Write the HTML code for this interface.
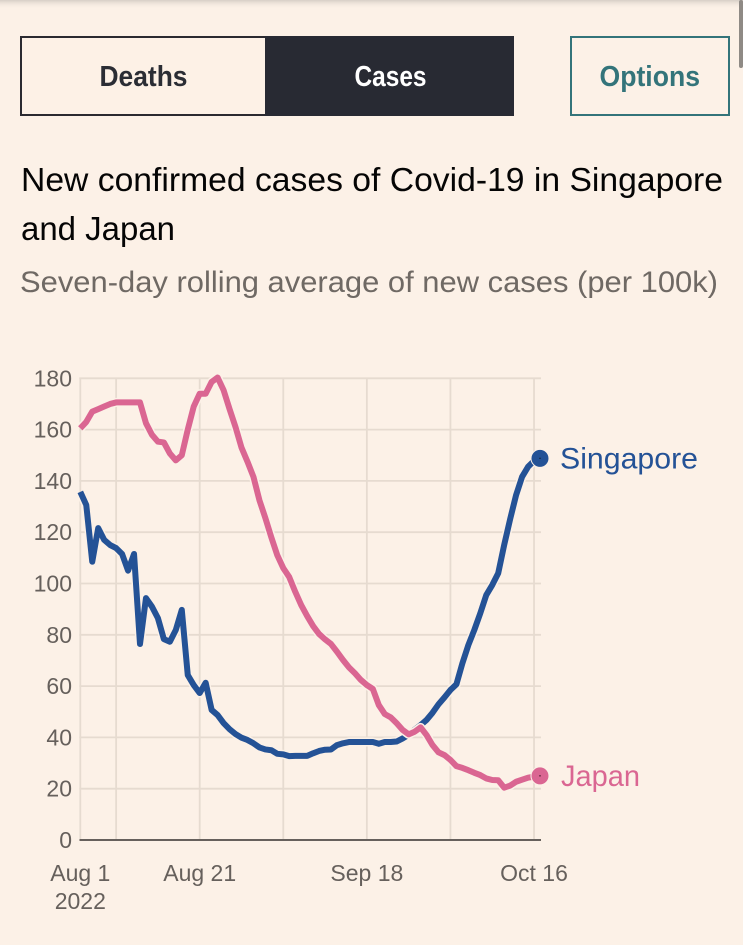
<!DOCTYPE html>
<html lang="en">
<head>
<meta charset="utf-8">
<title>New confirmed cases of Covid-19 in Singapore and Japan</title>
<style>
html,body{margin:0;padding:0;background:#fcf1e7;width:743px;height:945px;overflow:hidden}
svg{display:block;font-family:"Liberation Sans",sans-serif}
</style>
</head>
<body>
<svg id="page" xmlns="http://www.w3.org/2000/svg" width="743" height="945" viewBox="0 0 743 945">
  <defs>
    <linearGradient id="topShade" x1="0" y1="0" x2="0" y2="1">
      <stop offset="0" stop-color="#b9b3ac" stop-opacity="0.55"/>
      <stop offset="1" stop-color="#fcf1e7" stop-opacity="0"/>
    </linearGradient>
  </defs>
  <rect x="0" y="0" width="743" height="945" fill="#fcf1e7"/>
  <rect x="0" y="0" width="743" height="9" fill="url(#topShade)"/>
  <rect x="739" y="0" width="4" height="68" rx="2" fill="#8f8a85"/>

  <g>
    <rect x="21" y="37" width="245" height="78" fill="#fdf1e6" stroke="#2b2a30" stroke-width="2"/>
    <text x="99.5" y="86" font-size="28.5" font-weight="700" fill="#2b2d34" textLength="88" lengthAdjust="spacingAndGlyphs">Deaths</text>
  </g>
  <g>
    <rect x="265" y="36" width="249" height="80" fill="#282a33"/>
    <text x="354.5" y="86" font-size="28.5" font-weight="700" fill="#ffffff" textLength="72" lengthAdjust="spacingAndGlyphs">Cases</text>
  </g>
  <g>
    <rect x="571" y="37" width="158" height="78" fill="none" stroke="#33747a" stroke-width="2"/>
    <text x="599.5" y="86" font-size="28.5" font-weight="700" fill="#33747a" textLength="100.5" lengthAdjust="spacingAndGlyphs">Options</text>
  </g>

  <text x="21" y="191" font-size="33" fill="#050505" textLength="702" lengthAdjust="spacingAndGlyphs">New confirmed cases of Covid-19 in Singapore</text>
  <text x="21" y="240" font-size="33" fill="#050505" textLength="154" lengthAdjust="spacingAndGlyphs">and Japan</text>
  <text x="20" y="292" font-size="29.5" fill="#6f6964" textLength="698" lengthAdjust="spacingAndGlyphs">Seven-day rolling average of new cases (per 100k)</text>

  <g id="plot"></g>
</svg>
<script>
var yTicks = [0, 20, 40, 60, 80, 100, 120, 140, 160, 180];
var xGridDays = [0, 6, 20, 34, 48, 62, 76];
var xTickDays = [0, 20, 48, 76];
var xTickLabels = ['Aug 1', 'Aug 21', 'Sep 18', 'Oct 16'];
var xTickSubLabel = '2022';
var seriesNames = ['Singapore', 'Japan'];
var singapore = [135.7, 130.6, 108.5, 121.6, 117, 115, 113.8, 111.5, 105, 111.5, 76.4, 94.3, 91, 86.5, 78.3, 77.3, 81.9, 89.7, 64.3, 60.4, 57.3, 61.3, 50.7, 48.7, 45.6, 43.2, 41.3, 39.9, 39, 37.7, 36.1, 35.3, 35, 33.6, 33.4, 32.7, 32.8, 32.8, 32.8, 33.8, 34.7, 35.2, 35.3, 37, 37.7, 38.2, 38.2, 38.2, 38.2, 38.2, 37.5, 38.2, 38.2, 38.4, 39.6, 41, 43, 44.8, 46.8, 49.6, 52.9, 55.6, 58.5, 60.7, 68.9, 76, 81.9, 88.4, 95.5, 99.4, 104, 115, 125.1, 134.5, 141.6, 145.5, 147.8, 148.8];
var japan = [160.5, 163, 167, 168, 169, 170, 170.6, 170.6, 170.6, 170.6, 170.6, 162.5, 158, 155.3, 155, 150.7, 148, 150, 160, 169, 174, 174, 178.6, 180.3, 175.4, 168, 161, 153, 147.5, 141.6, 132.5, 125.5, 118, 111, 106, 102.5, 96.8, 91.6, 87.3, 83.4, 80.3, 78.2, 76.4, 73.4, 70.2, 67.3, 65, 62.4, 60.4, 58.9, 52.6, 49.1, 47.8, 45.5, 42.9, 41.2, 42.2, 43.9, 40.9, 37, 34.2, 33.1, 31.2, 28.8, 28.1, 27.2, 26.2, 25.3, 24, 23.4, 23.3, 20.4, 21.2, 22.7, 23.5, 24.3, 24.7, 25];

var NS = 'http://www.w3.org/2000/svg';
var plot = document.getElementById('plot');
var BG = '#fcf1e7', GRID = '#e6dbd0', INK = '#66605c', BLUE = '#245296', PINK = '#da6692';

function xScale(d) { return 80.3 + 5.97 * d; }
function yScale(v) { return 840 - 2.565 * v; }

function make(tag, attrs, text) {
  var el = document.createElementNS(NS, tag);
  for (var k in attrs) el.setAttribute(k, attrs[k]);
  if (text !== undefined) el.textContent = text;
  plot.appendChild(el);
  return el;
}
function pathFor(values) {
  return values.map(function (v, i) {
    return (i ? 'L' : 'M') + xScale(i).toFixed(2) + ' ' + yScale(v).toFixed(2);
  }).join(' ');
}

yTicks.forEach(function (t) {
  if (t !== 0) {
    var g = make('line', { x1: xScale(0) - 1, x2: 541, y1: yScale(t), y2: yScale(t), stroke: GRID, 'stroke-width': 1.8 });
    
    
  }
  var l = make('text', { x: 72, y: yScale(t) + 8, 'text-anchor': 'end', 'font-size': 23, fill: INK }, String(t));
  
  
});

xGridDays.forEach(function (d) {
  var g = make('line', { x1: xScale(d), x2: xScale(d), y1: yScale(180) - 0.8, y2: yScale(0), stroke: GRID, 'stroke-width': 1.8 });
  
  
});

var baseline = make('line', { x1: 79.5, x2: 541, y1: yScale(0), y2: yScale(0), stroke: INK, 'stroke-width': 2 });



xTickDays.forEach(function (d, i) {
  var l = make('text', { x: xScale(d), y: 881, 'text-anchor': 'middle', 'font-size': 23, fill: INK }, xTickLabels[i]);
  
  
});
var yearLabel = make('text', { x: xScale(0), y: 909, 'text-anchor': 'middle', 'font-size': 23, fill: INK }, xTickSubLabel);



var blueHalo = make('path', { d: pathFor(singapore), fill: 'none', stroke: BG, 'stroke-width': 9, 'stroke-linejoin': 'round' });


var blueLine = make('path', { d: pathFor(singapore), fill: 'none', stroke: BLUE, 'stroke-width': 6, 'stroke-linejoin': 'round' });



var pinkHalo = make('path', { d: pathFor(japan), fill: 'none', stroke: BG, 'stroke-width': 9, 'stroke-linejoin': 'round' });


var pinkLine = make('path', { d: pathFor(japan), fill: 'none', stroke: PINK, 'stroke-width': 6, 'stroke-linejoin': 'round' });



var lastIndex = singapore.length - 1;
var blueMarker = make('circle', { cx: xScale(lastIndex), cy: yScale(singapore[lastIndex]), r: 9, fill: BLUE, stroke: BG, 'stroke-width': 1 });


var blueDot = make('circle', { cx: xScale(lastIndex), cy: yScale(singapore[lastIndex]), r: 0.7, fill: '#10202f' });



var pinkMarker = make('circle', { cx: xScale(lastIndex), cy: yScale(japan[lastIndex]), r: 9, fill: PINK, stroke: BG, 'stroke-width': 1 });


var pinkDot = make('circle', { cx: xScale(lastIndex), cy: yScale(japan[lastIndex]), r: 0.7, fill: '#33121f' });



var blueLabel = make('text', { x: 560, y: yScale(singapore[lastIndex]) + 10, 'font-size': 29.5, fill: BLUE, textLength: 138, lengthAdjust: 'spacingAndGlyphs' }, seriesNames[0]);


var pinkLabel = make('text', { x: 561, y: yScale(japan[lastIndex]) + 10, 'font-size': 29.5, fill: PINK, textLength: 79, lengthAdjust: 'spacingAndGlyphs' }, seriesNames[1]);


</script>
</body>
</html>
